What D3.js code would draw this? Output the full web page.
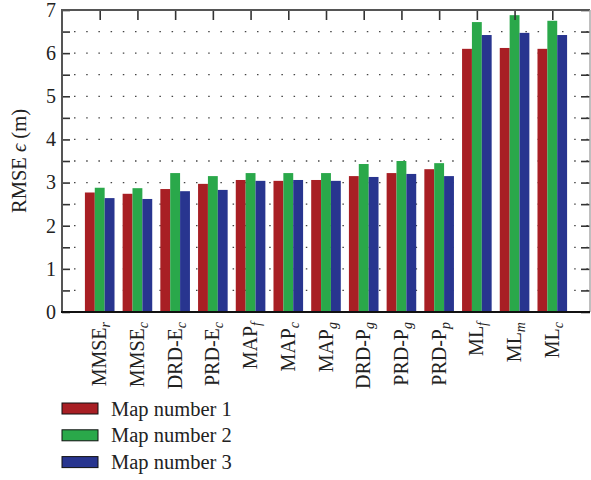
<!DOCTYPE html>
<html>
<head>
<meta charset="utf-8">
<script src="https://cdn.jsdelivr.net/npm/d3@7"></script>
<style>
    body { margin: 0; background: #fff; }
    svg text { font-family: "Liberation Serif", "Times New Roman", serif !important; fill: #222; }
</style>
</head>
<body>
<div id="chart"></div>
<script>

// categories: base name + italic subscript
var categories = [
    ["MMSE", "r"], ["MMSE", "c"], ["DRD-E", "c"], ["PRD-E", "c"],
    ["MAP", "f"], ["MAP", "c"], ["MAP", "g"], ["DRD-P", "g"],
    ["PRD-P", "g"], ["PRD-P", "p"], ["ML", "f"], ["ML", "m"], ["ML", "c"]
];

var seriesNames = ["Map number 1", "Map number 2", "Map number 3"];
var seriesColors = ["#a81f24", "#2aa84a", "#28358f"];

var map1 = [2.77, 2.74, 2.85, 2.97, 3.06, 3.04, 3.06, 3.15, 3.22, 3.31, 6.10, 6.12, 6.10];
var map2 = [2.88, 2.87, 3.22, 3.15, 3.22, 3.22, 3.22, 3.43, 3.50, 3.45, 6.72, 6.88, 6.75];
var map3 = [2.64, 2.62, 2.80, 2.83, 3.04, 3.06, 3.04, 3.13, 3.20, 3.15, 6.42, 6.47, 6.42];

var yTicks = [0, 1, 2, 3, 4, 5, 6, 7];

var allSeries = [map1, map2, map3];

var margin = {top: 10, left: 62, right: 1, bottom: 168};
var width = 591, height = 480;
var plotBottom = height - margin.bottom;

var svg = d3.select("#chart").append("svg")
    .attr("width", width)
    .attr("height", height);

var x = d3.scaleLinear().domain([0, 14]).range([margin.left, width - margin.right]);
var y = d3.scaleLinear().domain([0, 7]).range([plotBottom, margin.top]);
var inner = d3.scaleBand().domain(d3.range(seriesNames.length)).range([-14.8, 14.8]);

var halfSteps = d3.range(0, 7.01, 0.5);

// dotted grid
svg.append("g").selectAll("line")
    .data(halfSteps.filter(function(d) { return d > 0 && d < 7; }))
    .enter().append("line")
    .attr("x1", x(0) + 12)
    .attr("x2", x(14))
    .attr("y1", function(d) { return y(d); })
    .attr("y2", function(d) { return y(d); })
    .attr("stroke", "#444")
    .attr("stroke-width", 1.3)
    .attr("stroke-dasharray", "1.5,10.7");

// bars
allSeries.forEach(function(vals, s) {
    svg.append("g").selectAll("rect")
        .data(vals)
        .enter().append("rect")
        .attr("x", function(d, i) { return x(i + 1) + inner(s); })
        .attr("width", inner.bandwidth())
        .attr("y", function(d) { return y(d); })
        .attr("height", function(d) { return y(0) - y(d); })
        .attr("fill", seriesColors[s]);
});

// axes
var leftAxis = svg.append("g")
    .attr("transform", "translate(" + x(0) + ",0)")
    .call(d3.axisLeft(y).tickValues(halfSteps).tickSize(-8).tickPadding(6)
        .tickFormat(function(d) { return yTicks.indexOf(d) >= 0 ? d : ""; }));

var rightAxis = svg.append("g")
    .attr("transform", "translate(" + x(14) + ",0)")
    .call(d3.axisRight(y).tickValues(halfSteps).tickSize(-9).tickFormat(""));

var topAxis = svg.append("g")
    .attr("transform", "translate(0," + margin.top + ")")
    .call(d3.axisTop(x).tickValues(d3.range(1, 14)).tickSize(-10).tickFormat(""));

[leftAxis, rightAxis, topAxis].forEach(function(g) {
    g.attr("font-family", null).attr("font-size", null);
    g.selectAll(".domain").remove();
    g.selectAll(".tick line").attr("stroke", "#333").attr("stroke-width", 1.6);
});
leftAxis.selectAll(".tick text").attr("font-size", 20).attr("fill", "#222");

// frame
svg.append("line").attr("x1", x(0)).attr("x2", x(0)).attr("y1", y(7) - 1).attr("y2", y(0))
    .attr("stroke", "#555").attr("stroke-width", 2);
svg.append("line").attr("x1", x(0)).attr("x2", x(14)).attr("y1", y(7)).attr("y2", y(7))
    .attr("stroke", "#555").attr("stroke-width", 2);
svg.append("line").attr("x1", x(14)).attr("x2", x(14)).attr("y1", y(7)).attr("y2", y(0))
    .attr("stroke", "#aaa").attr("stroke-width", 1.5);
svg.append("line").attr("x1", x(0) - 1).attr("x2", x(14)).attr("y1", y(0)).attr("y2", y(0))
    .attr("stroke", "#111").attr("stroke-width", 2);

// y label
svg.append("text")
    .attr("transform", "translate(26," + ((y(0) + y(7)) / 2) + ") rotate(-90)")
    .attr("text-anchor", "middle")
    .attr("font-size", 20.5)
    .html("RMSE <tspan font-style='italic'>ϵ</tspan> (m)");

// x labels
var xl = svg.append("g").selectAll("text")
    .data(categories)
    .enter().append("text")
    .attr("transform", function(d, i) {
        return "translate(" + (x(i + 1) + 6.5) + "," + (plotBottom + 10) + ") rotate(-90)";
    })
    .attr("text-anchor", "end")
    .attr("font-size", 20);
xl.append("tspan").text(function(d) { return d[0]; });
xl.append("tspan")
    .attr("dy", 4)
    .attr("font-size", 14)
    .attr("font-style", "italic")
    .text(function(d) { return d[1]; });

// legend
var legend = svg.append("g").selectAll("g")
    .data(seriesNames)
    .enter().append("g")
    .attr("transform", function(d, i) { return "translate(62," + (403 + i * 26.8) + ")"; });
legend.append("rect")
    .attr("width", 36)
    .attr("height", 11)
    .attr("fill", function(d, i) { return seriesColors[i]; })
    .attr("stroke", "#111")
    .attr("stroke-width", 1);
legend.append("text")
    .attr("x", 49)
    .attr("y", 12.5)
    .attr("font-size", 20.5)
    .text(function(d) { return d; });

</script>
</body>
</html>
